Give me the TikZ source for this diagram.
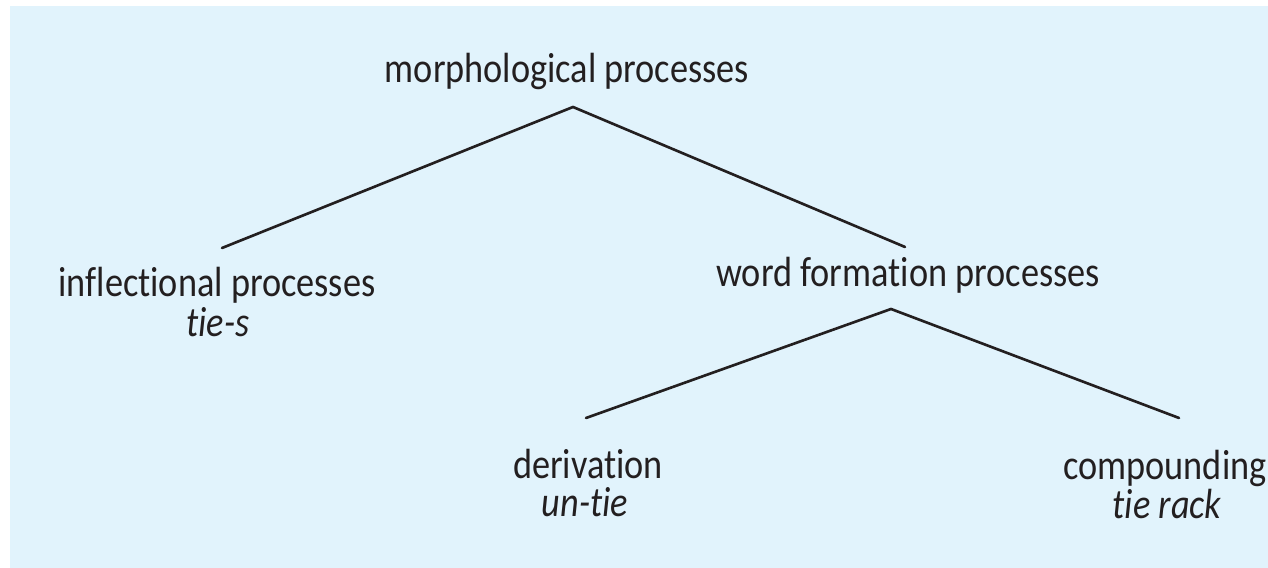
\documentclass[tikz,border=0pt]{standalone}
\usepackage{fontspec}
\setmainfont{Carlito}[FakeStretch=0.86,Ligatures=NoCommon]
\usepackage{tikz}
\definecolor{PanelBlue}{HTML}{E1F3FC}
\definecolor{InkDark}{HTML}{231F20}

\begin{document}
\begin{tikzpicture}[x=0.01cm,y=-0.01cm,
      lbl/.style={anchor=base,inner sep=0pt,text=InkDark,font=\fontsize{12}{14}\selectfont},
      ex/.style={lbl,font=\fontsize{12}{14}\selectfont\itshape},
      branch/.style={draw=InkDark,line width=0.75pt,line cap=round}]
      \useasboundingbox (0,0) rectangle (1268,568);
      \fill[PanelBlue] (10,6) rectangle (1268,568);
      % labels
      \node[lbl] (morph) at (567,83) {morphological processes};
      \node[lbl] (infl) at (217,297) {inflectional processes};
      \node[ex] (inflex) at (218,337) {tie-s};
      \node[lbl] (wordf) at (908,287) {word formation processes};
      \node[lbl] (deriv) at (588,479) {derivation};
      \node[ex] (derivex) at (585,517) {un-tie};
      \node[lbl] (comp) at (1165,480) {compounding};
      \node[ex] (compex) at (1167,519) {tie rack};
      % branches
      \draw[branch] ([shift={(5,-49)}]infl.base) -- ([shift={(6,24)}]morph.base) -- ([shift={(-3,-40)}]wordf.base);
      \draw[branch] ([shift={(-2,-61)}]deriv.base) -- ([shift={(-17,22)}]wordf.base) -- ([shift={(14,-62)}]comp.base);
    \end{tikzpicture}
\end{document}
